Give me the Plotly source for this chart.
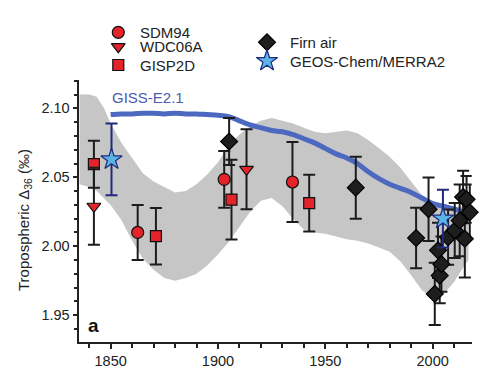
import plotly.graph_objects as go

# ---------------- data ----------------
sdm_year = [1862.6, 1902.9, 1934.7]
sdm_val = [2.010, 2.0485, 2.0466]
sdm_err = [0.020, 0.0205, 0.029]

wdc_year = [1842.2, 1913.3]
wdc_val = [2.029, 2.0558]
wdc_err = [0.028, 0.029]

gisp_year = [1842.2, 1871.1, 1906.3, 1942.5]
gisp_val = [2.0595, 2.0073, 2.0338, 2.0313]
gisp_err = [0.017, 0.0205, 0.029, 0.0206]

firn_year = [1905.2, 1964.2, 1992.3, 1998.1, 2001.0, 2002.5, 2003.3, 2004.1,
             2007.2, 2010.3, 2012.6, 2014.2, 2015.0, 2015.8, 2017.3]
firn_val = [2.076, 2.0425, 2.006, 2.0268, 1.9654, 1.997, 1.9787, 1.987,
            2.0066, 2.0114, 2.0187, 2.0357, 2.0054, 2.034, 2.0247]
firn_err = [0.017, 0.0225, 0.022, 0.023, 0.0226, 0.020, 0.020, 0.020,
            0.020, 0.020, 0.026, 0.019, 0.028, 0.017, 0.020]

geos_year = [1850.4, 2004.8]
geos_val = [2.063, 2.020]
geos_err = [0.026, 0.021]

giss_year = [1850, 1855, 1860, 1865, 1870, 1875, 1880, 1885, 1890, 1895, 1900,
             1905, 1910, 1915, 1920, 1925, 1930, 1935, 1940, 1945, 1950, 1955,
             1960, 1965, 1970, 1975, 1980, 1985, 1990, 1995, 2000, 2005, 2010,
             2015, 2017]
giss_val = [2.0955, 2.096, 2.096, 2.0965, 2.0965, 2.096, 2.0965, 2.096, 2.096,
            2.0955, 2.095, 2.094, 2.091, 2.088, 2.086, 2.084, 2.083, 2.081,
            2.078, 2.075, 2.071, 2.067, 2.064, 2.060, 2.054, 2.049, 2.045,
            2.042, 2.039, 2.035, 2.031, 2.029, 2.027, 2.025, 2.025]

band_year = [1835.4, 1840, 1843.5, 1847, 1850, 1855, 1860, 1865, 1870, 1875,
             1880, 1885, 1890, 1895, 1900, 1905, 1910, 1915, 1920, 1925, 1930,
             1935, 1940, 1945, 1950, 1955, 1960, 1965, 1970, 1975, 1980, 1985,
             1990, 1995, 2000, 2005, 2010, 2014, 2016.7]
band_upper = [2.110, 2.110, 2.1085, 2.100, 2.089, 2.075, 2.064, 2.053, 2.047,
              2.043, 2.039, 2.040, 2.045, 2.052, 2.061, 2.073, 2.081, 2.087,
              2.091, 2.093, 2.091, 2.089, 2.086, 2.083, 2.082, 2.083, 2.084,
              2.082, 2.077, 2.071, 2.065, 2.057, 2.047, 2.037, 2.030, 2.028,
              2.028, 2.029, 2.030]
band_lower = [2.045, 2.043, 2.040, 2.035, 2.030, 2.019, 2.004, 1.991, 1.983,
              1.977, 1.975, 1.977, 1.980, 1.986, 1.994, 2.003, 2.014, 2.025,
              2.033, 2.035, 2.029, 2.020, 2.012, 2.010, 2.009, 2.007, 2.005,
              2.004, 2.002, 1.999, 1.996, 1.989, 1.979, 1.968, 1.962, 1.965,
              1.974, 1.984, 1.990]

x_ticks = [1850, 1900, 1950, 2000]
y_ticks = [1.95, 2.00, 2.05, 2.10]
y_ticktext = ["1.95", "2.00", "2.05", "2.10"]

# ---------------- style ----------------
FONT = "Liberation Sans, Arial, Helvetica, sans-serif"
RED = "#e4232b"
ERR = "#1c1c1c"
NAVY = "#1f2b7a"
STAR = "#5cb3e6"
GRAY = "#c6c6c6"
BLUE = "#4d68bf"
W, H = 500, 381
OFF = 8.0  # page body margin of the html page
PL, PR, PT, PB = 79.3 - OFF, 471.7 - OFF, 80.0 - OFF, 342.3 - OFF

fig = go.Figure()

# uncertainty band
fig.add_trace(go.Scatter(x=band_year, y=band_lower, mode="lines",
                         line=dict(width=0, color=GRAY), hoverinfo="skip",
                         showlegend=False))
fig.add_trace(go.Scatter(x=band_year, y=band_upper, mode="lines",
                         line=dict(width=0, color=GRAY), fill="tonexty",
                         fillcolor=GRAY, hoverinfo="skip", showlegend=False))

# GISS-E2.1 model line
fig.add_trace(go.Scatter(x=giss_year, y=giss_val, mode="lines",
                         line=dict(color=BLUE, width=5, shape="spline"),
                         showlegend=False))


def pts(xs, ys, es, symbol, size, fill, lcol, ecol):
    return go.Scatter(
        x=xs, y=ys, mode="markers",
        marker=dict(symbol=symbol, size=size, color=fill,
                    line=dict(color=lcol, width=1.2)),
        error_y=dict(type="data", array=es, visible=True, color=ecol,
                     thickness=2, width=6),
        showlegend=False, cliponaxis=False)


fig.add_trace(pts(gisp_year, gisp_val, gisp_err, "square", 11, RED, "#111", ERR))
fig.add_trace(pts(wdc_year, wdc_val, wdc_err, "triangle-down", 12, RED, "#111", ERR))
fig.add_trace(pts(sdm_year, sdm_val, sdm_err, "circle", 12, RED, "#111", ERR))
fig.add_trace(pts(firn_year, firn_val, firn_err, "diamond", 13, "#1e1e1e", "#000", ERR))
fig.add_trace(pts(geos_year, geos_val, geos_err, "star", 16, STAR, NAVY, NAVY))

# ---------------- legend (drawn on a pixel-space overlay) ----------------
leg_items = [
    ("circle", 12, RED, "#111", 118.3, 32.3, "SDM94", 138.3),
    ("triangle-down", 12, RED, "#111", 118.3, 46.7, "WDC06A", 138.3),
    ("square", 11, RED, "#111", 118.3, 65.0, "GISP2D", 138.3),
    ("diamond", 13, "#1e1e1e", "#000", 267.0, 42.3, "Firn air", 288.3),
    ("star", 16, STAR, NAVY, 267.0, 61.0, "GEOS-Chem/MERRA2", 288.3),
]
for sym, sz, fc, lc, mx, my, label, tx in leg_items:
    fig.add_trace(go.Scatter(x=[mx - OFF], y=[my - OFF], mode="markers",
                             xaxis="x2", yaxis="y2", showlegend=False,
                             hoverinfo="skip",
                             marker=dict(symbol=sym, size=sz, color=fc,
                                         line=dict(color=lc, width=1.2))))
    fig.add_annotation(x=tx - OFF, y=my - OFF, xref="x2", yref="y2",
                       text=label, showarrow=False, xanchor="left",
                       yanchor="middle",
                       font=dict(family=FONT, size=15, color="#222"))

fig.add_annotation(x=110 - OFF, y=97 - OFF, xref="x2", yref="y2",
                   text="GISS-E2.1", showarrow=False, xanchor="left",
                   yanchor="middle",
                   font=dict(family=FONT, size=15, color="#4a5cab"))
fig.add_annotation(x=93 - OFF, y=325 - OFF, xref="x2", yref="y2",
                   text="<b>a</b>", showarrow=False, xanchor="center",
                   yanchor="middle",
                   font=dict(family=FONT, size=19, color="#111"))
fig.add_annotation(x=24 - OFF, y=220 - OFF, xref="x2", yref="y2",
                   text="Tropospheric Δ<sub>36</sub> (‰)", textangle=-90,
                   showarrow=False, xanchor="center", yanchor="middle",
                   font=dict(family=FONT, size=15, color="#222"))

axis_common = dict(showgrid=False, zeroline=False, showline=True,
                   linecolor="#222", linewidth=1.5, ticks="outside",
                   ticklen=5, tickwidth=1.5, tickcolor="#222",
                   tickfont=dict(family=FONT, size=14.5, color="#222"))

fig.update_layout(
    width=W, height=H, margin=dict(l=0, r=0, t=0, b=0),
    paper_bgcolor="white", plot_bgcolor="rgba(0,0,0,0)", showlegend=False,
    xaxis=dict(domain=[PL / W, PR / W], range=[1835.4, 2018.2],
               tickmode="array", tickvals=x_ticks,
               minor=dict(tickmode="linear", tick0=1840, dtick=10, ticklen=4,
                          ticks="outside", tickwidth=1.5, tickcolor="#222"),
               anchor="y", **axis_common),
    yaxis=dict(domain=[(H - PB) / H, (H - PT) / H], range=[1.9303, 2.1206],
               tickmode="array", tickvals=y_ticks, ticktext=y_ticktext,
               minor=dict(tickmode="linear", tick0=1.93, dtick=0.01,
                          ticklen=3.5, ticks="outside", tickwidth=1.5,
                          tickcolor="#222"),
               anchor="x", **axis_common),
    xaxis2=dict(domain=[0, 1], range=[0, W], visible=False, anchor="y2",
                fixedrange=True),
    yaxis2=dict(domain=[0, 1], range=[H, 0], visible=False, anchor="x2",
                fixedrange=True),
)

fig.write_html("out.html")
